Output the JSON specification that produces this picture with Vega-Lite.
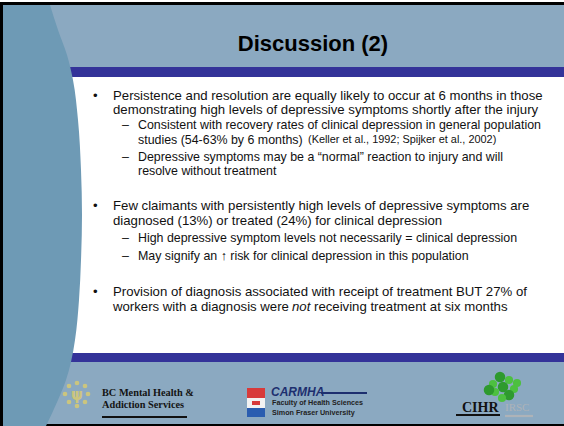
{
  "$schema": "https://vega.github.io/schema/vega-lite/v6.json",
  "width": 564,
  "height": 426,
  "autosize": {"type": "fit", "contains": "padding"},
  "padding": 0,
  "background": "white",
  "config": {"view": {"stroke": null}, "font": "Liberation Sans"},
  "datasets": {
    "boxes": [
      {"part": "frame", "x1": 0, "x2": 564, "y1": 2, "y2": 426},
      {"part": "header", "x1": 3, "x2": 564, "y1": 5, "y2": 67},
      {"part": "band", "x1": 3, "x2": 564, "y1": 67, "y2": 77},
      {"part": "body", "x1": 3, "x2": 564, "y1": 77, "y2": 353},
      {"part": "band", "x1": 3, "x2": 564, "y1": 353, "y2": 362},
      {"part": "header", "x1": 3, "x2": 564, "y1": 362, "y2": 424}
    ],
    "crest": [
      {"part": "crest_red", "x1": 247, "x2": 265, "y1": 388, "y2": 398},
      {"part": "crest_white", "x1": 247, "x2": 265, "y1": 398, "y2": 408},
      {"part": "crest_blue", "x1": 247, "x2": 265, "y1": 408, "y2": 417},
      {"part": "crest_red", "x1": 252, "x2": 260, "y1": 401, "y2": 405}
    ],
    "shape": [
      {"y": 5, "x": 50}, {"y": 30, "x": 58}, {"y": 55, "x": 67}, {"y": 80, "x": 73},
      {"y": 120, "x": 78}, {"y": 170, "x": 81}, {"y": 215, "x": 82}, {"y": 260, "x": 81},
      {"y": 300, "x": 79}, {"y": 340, "x": 75}, {"y": 362, "x": 71}, {"y": 380, "x": 66},
      {"y": 400, "x": 58}, {"y": 426, "x": 46}
    ],
    "lines": [
      {"kind": "main", "x": 93, "y": 96, "text": "•"},
      {"kind": "main", "x": 113, "y": 96, "text": "Persistence and resolution are equally likely to occur at 6 months in those"},
      {"kind": "main", "x": 113, "y": 110, "text": "demonstrating high levels of depressive symptoms shortly after the injury"},
      {"kind": "sub", "x": 122, "y": 125, "text": "–"},
      {"kind": "sub", "x": 138, "y": 125, "text": "Consistent with recovery rates of clinical depression in general population"},
      {"kind": "sub", "x": 138, "y": 140, "text": "studies (54-63% by 6 months)"},
      {"kind": "cite", "x": 308, "y": 140, "text": "(Keller et al., 1992; Spijker et al., 2002)"},
      {"kind": "sub", "x": 122, "y": 157, "text": "–"},
      {"kind": "sub", "x": 138, "y": 157, "text": "Depressive symptoms may be a “normal” reaction to injury and will"},
      {"kind": "sub", "x": 138, "y": 171, "text": "resolve without treatment"},
      {"kind": "main", "x": 93, "y": 206, "text": "•"},
      {"kind": "main", "x": 113, "y": 206, "text": "Few claimants with persistently high levels of depressive symptoms are"},
      {"kind": "main", "x": 113, "y": 221, "text": "diagnosed (13%) or treated (24%) for clinical depression"},
      {"kind": "sub", "x": 122, "y": 238, "text": "–"},
      {"kind": "sub", "x": 138, "y": 238, "text": "High depressive symptom levels not necessarily = clinical depression"},
      {"kind": "sub", "x": 122, "y": 256, "text": "–"},
      {"kind": "sub", "x": 138, "y": 256, "text": "May signify an ↑ risk for clinical depression in this population"},
      {"kind": "main", "x": 93, "y": 292, "text": "•"},
      {"kind": "main", "x": 113, "y": 292, "text": "Provision of diagnosis associated with receipt of treatment BUT 27% of"},
      {"kind": "main", "x": 113, "y": 307, "text": "workers with a diagnosis were"},
      {"kind": "ital", "x": 292, "y": 307, "text": "not"},
      {"kind": "main", "x": 314, "y": 307, "text": "receiving treatment at six months"}
    ],
    "title": [{"x": 313, "y": 44, "text": "Discussion (2)"}],
    "logotext": [
      {"kind": "bc", "x": 102, "y": 393, "text": "BC Mental Health &"},
      {"kind": "bc", "x": 102, "y": 405, "text": "Addiction Services"},
      {"kind": "carmha", "x": 271, "y": 392, "text": "CARMHA"},
      {"kind": "sfu", "x": 272, "y": 403, "text": "Faculty of Health Sciences"},
      {"kind": "sfu", "x": 272, "y": 413, "text": "Simon Fraser University"},
      {"kind": "cihr", "x": 462, "y": 408, "text": "CIHR"},
      {"kind": "irsc", "x": 505, "y": 408, "text": "IRSC"},
      {"kind": "sun", "x": 77, "y": 395, "text": "ψ"}
    ],
    "bars": [
      {"part": "ink", "x1": 102, "x2": 187, "y": 417},
      {"part": "navy", "x1": 321, "x2": 367, "y": 393},
      {"part": "ink", "x1": 456, "x2": 500, "y": 415},
      {"part": "grey", "x1": 505, "x2": 533, "y": 416}
    ],
    "dots": [
      {"part": "sun", "x": 77, "y": 383}, {"part": "sun", "x": 85, "y": 386},
      {"part": "sun", "x": 88, "y": 394}, {"part": "sun", "x": 85, "y": 402},
      {"part": "sun", "x": 77, "y": 406}, {"part": "sun", "x": 69, "y": 402},
      {"part": "sun", "x": 65, "y": 394}, {"part": "sun", "x": 69, "y": 386},
      {"part": "leaf2", "x": 500, "y": 377}, {"part": "leaf1", "x": 509, "y": 380},
      {"part": "leaf1", "x": 493, "y": 384}, {"part": "leaf2", "x": 503, "y": 387},
      {"part": "leaf1", "x": 514, "y": 389}, {"part": "leaf1", "x": 495, "y": 392},
      {"part": "leaf2", "x": 509, "y": 395}, {"part": "leaf1", "x": 502, "y": 398},
      {"part": "leaf1", "x": 517, "y": 383}, {"part": "leaf2", "x": 489, "y": 390}
    ]
  },
  "layer": [
    {
      "data": {"name": "boxes"},
      "mark": {"type": "rect"},
      "encoding": {
        "x": {"field": "x1", "type": "quantitative", "axis": null, "scale": {"domain": [0, 564], "nice": false, "zero": false}},
        "x2": {"field": "x2"},
        "y": {"field": "y1", "type": "quantitative", "axis": null, "scale": {"domain": [0, 426], "nice": false, "zero": false, "reverse": true}},
        "y2": {"field": "y2"},
        "color": {"field": "part", "type": "nominal", "legend": null,
          "scale": {"domain": ["frame", "header", "band", "body", "crest_red", "crest_white", "crest_blue", "ink", "navy", "grey", "sun", "leaf1", "leaf2"],
                    "range": ["#000000", "#8BA9C1", "#343399", "#FFFFFF", "#D83A3A", "#F2F2F2", "#2A5DB0", "#111111", "#1D2F6F", "#AEB3B8", "#CBC57E", "#4DC040", "#2E9A2E"]}}
      }
    },
    {
      "data": {"name": "shape"},
      "mark": {"type": "area", "orient": "horizontal", "interpolate": "monotone", "color": "#6E9AB5"},
      "encoding": {
        "y": {"field": "y", "type": "quantitative", "axis": null, "scale": {"domain": [0, 426], "nice": false, "zero": false, "reverse": true}},
        "x": {"field": "x", "type": "quantitative", "axis": null, "scale": {"domain": [0, 564], "nice": false, "zero": false}},
        "x2": {"datum": 3}
      }
    },
    {
      "data": {"name": "crest"},
      "mark": {"type": "rect"},
      "encoding": {
        "x": {"field": "x1", "type": "quantitative", "axis": null, "scale": {"domain": [0, 564], "nice": false, "zero": false}},
        "x2": {"field": "x2"},
        "y": {"field": "y1", "type": "quantitative", "axis": null, "scale": {"domain": [0, 426], "nice": false, "zero": false, "reverse": true}},
        "y2": {"field": "y2"},
        "color": {"field": "part", "type": "nominal", "legend": null,
          "scale": {"domain": ["frame", "header", "band", "body", "crest_red", "crest_white", "crest_blue", "ink", "navy", "grey", "sun", "leaf1", "leaf2"],
                    "range": ["#000000", "#8BA9C1", "#343399", "#FFFFFF", "#D83A3A", "#F2F2F2", "#2A5DB0", "#111111", "#1D2F6F", "#AEB3B8", "#CBC57E", "#4DC040", "#2E9A2E"]}}
      }
    },
    {
      "data": {"name": "bars"},
      "mark": {"type": "rule", "strokeWidth": 2.2},
      "encoding": {
        "x": {"field": "x1", "type": "quantitative", "axis": null, "scale": {"domain": [0, 564], "nice": false, "zero": false}},
        "x2": {"field": "x2"},
        "y": {"field": "y", "type": "quantitative", "axis": null, "scale": {"domain": [0, 426], "nice": false, "zero": false, "reverse": true}},
        "color": {"field": "part", "type": "nominal", "legend": null,
          "scale": {"domain": ["frame", "header", "band", "body", "crest_red", "crest_white", "crest_blue", "ink", "navy", "grey", "sun", "leaf1", "leaf2"],
                    "range": ["#000000", "#8BA9C1", "#343399", "#FFFFFF", "#D83A3A", "#F2F2F2", "#2A5DB0", "#111111", "#1D2F6F", "#AEB3B8", "#CBC57E", "#4DC040", "#2E9A2E"]}}
      }
    },
    {
      "data": {"name": "dots"},
      "mark": {"type": "point", "filled": true, "opacity": 1, "shape": "circle"},
      "encoding": {
        "x": {"field": "x", "type": "quantitative", "axis": null, "scale": {"domain": [0, 564], "nice": false, "zero": false}},
        "y": {"field": "y", "type": "quantitative", "axis": null, "scale": {"domain": [0, 426], "nice": false, "zero": false, "reverse": true}},
        "size": {"field": "part", "type": "nominal", "legend": null, "scale": {"domain": ["sun", "leaf1", "leaf2"], "range": [22, 110, 95]}},
        "color": {"field": "part", "type": "nominal", "legend": null,
          "scale": {"domain": ["frame", "header", "band", "body", "crest_red", "crest_white", "crest_blue", "ink", "navy", "grey", "sun", "leaf1", "leaf2"],
                    "range": ["#000000", "#8BA9C1", "#343399", "#FFFFFF", "#D83A3A", "#F2F2F2", "#2A5DB0", "#111111", "#1D2F6F", "#AEB3B8", "#CBC57E", "#4DC040", "#2E9A2E"]}}
      }
    },
    {
      "data": {"name": "title"},
      "mark": {"type": "text", "font": "Liberation Sans", "fontWeight": "bold", "fontSize": 22, "align": "center", "baseline": "middle", "color": "#000000"},
      "encoding": {
        "x": {"field": "x", "type": "quantitative", "axis": null, "scale": {"domain": [0, 564], "nice": false, "zero": false}},
        "y": {"field": "y", "type": "quantitative", "axis": null, "scale": {"domain": [0, 426], "nice": false, "zero": false, "reverse": true}},
        "text": {"field": "text"}
      }
    },
    {
      "data": {"name": "lines"},
      "transform": [{"filter": "datum.kind === 'main'"}],
      "mark": {"type": "text", "font": "Liberation Sans", "fontSize": 13.2, "align": "left", "baseline": "middle", "color": "#111111"},
      "encoding": {
        "x": {"field": "x", "type": "quantitative", "axis": null, "scale": {"domain": [0, 564], "nice": false, "zero": false}},
        "y": {"field": "y", "type": "quantitative", "axis": null, "scale": {"domain": [0, 426], "nice": false, "zero": false, "reverse": true}},
        "text": {"field": "text"}
      }
    },
    {
      "data": {"name": "lines"},
      "transform": [{"filter": "datum.kind === 'sub'"}],
      "mark": {"type": "text", "font": "Liberation Sans", "fontSize": 12.4, "align": "left", "baseline": "middle", "color": "#111111"},
      "encoding": {
        "x": {"field": "x", "type": "quantitative", "axis": null, "scale": {"domain": [0, 564], "nice": false, "zero": false}},
        "y": {"field": "y", "type": "quantitative", "axis": null, "scale": {"domain": [0, 426], "nice": false, "zero": false, "reverse": true}},
        "text": {"field": "text"}
      }
    },
    {
      "data": {"name": "lines"},
      "transform": [{"filter": "datum.kind === 'cite'"}],
      "mark": {"type": "text", "font": "Liberation Sans", "fontSize": 10.9, "align": "left", "baseline": "middle", "color": "#111111"},
      "encoding": {
        "x": {"field": "x", "type": "quantitative", "axis": null, "scale": {"domain": [0, 564], "nice": false, "zero": false}},
        "y": {"field": "y", "type": "quantitative", "axis": null, "scale": {"domain": [0, 426], "nice": false, "zero": false, "reverse": true}},
        "text": {"field": "text"}
      }
    },
    {
      "data": {"name": "lines"},
      "transform": [{"filter": "datum.kind === 'ital'"}],
      "mark": {"type": "text", "font": "Liberation Sans", "fontSize": 13.2, "fontStyle": "italic", "align": "left", "baseline": "middle", "color": "#111111"},
      "encoding": {
        "x": {"field": "x", "type": "quantitative", "axis": null, "scale": {"domain": [0, 564], "nice": false, "zero": false}},
        "y": {"field": "y", "type": "quantitative", "axis": null, "scale": {"domain": [0, 426], "nice": false, "zero": false, "reverse": true}},
        "text": {"field": "text"}
      }
    },
    {
      "data": {"name": "logotext"},
      "transform": [{"filter": "datum.kind === 'bc'"}],
      "mark": {"type": "text", "font": "Liberation Serif", "fontWeight": "bold", "fontSize": 10.3, "align": "left", "baseline": "middle", "color": "#141414"},
      "encoding": {
        "x": {"field": "x", "type": "quantitative", "axis": null, "scale": {"domain": [0, 564], "nice": false, "zero": false}},
        "y": {"field": "y", "type": "quantitative", "axis": null, "scale": {"domain": [0, 426], "nice": false, "zero": false, "reverse": true}},
        "text": {"field": "text"}
      }
    },
    {
      "data": {"name": "logotext"},
      "transform": [{"filter": "datum.kind === 'carmha'"}],
      "mark": {"type": "text", "font": "Liberation Sans", "fontWeight": "bold", "fontStyle": "italic", "fontSize": 12, "align": "left", "baseline": "middle", "color": "#1D2F6F"},
      "encoding": {
        "x": {"field": "x", "type": "quantitative", "axis": null, "scale": {"domain": [0, 564], "nice": false, "zero": false}},
        "y": {"field": "y", "type": "quantitative", "axis": null, "scale": {"domain": [0, 426], "nice": false, "zero": false, "reverse": true}},
        "text": {"field": "text"}
      }
    },
    {
      "data": {"name": "logotext"},
      "transform": [{"filter": "datum.kind === 'sfu'"}],
      "mark": {"type": "text", "font": "Liberation Sans", "fontWeight": "bold", "fontSize": 7.2, "align": "left", "baseline": "middle", "color": "#222222"},
      "encoding": {
        "x": {"field": "x", "type": "quantitative", "axis": null, "scale": {"domain": [0, 564], "nice": false, "zero": false}},
        "y": {"field": "y", "type": "quantitative", "axis": null, "scale": {"domain": [0, 426], "nice": false, "zero": false, "reverse": true}},
        "text": {"field": "text"}
      }
    },
    {
      "data": {"name": "logotext"},
      "transform": [{"filter": "datum.kind === 'cihr'"}],
      "mark": {"type": "text", "font": "Liberation Serif", "fontWeight": "bold", "fontSize": 14, "align": "left", "baseline": "middle", "color": "#111111"},
      "encoding": {
        "x": {"field": "x", "type": "quantitative", "axis": null, "scale": {"domain": [0, 564], "nice": false, "zero": false}},
        "y": {"field": "y", "type": "quantitative", "axis": null, "scale": {"domain": [0, 426], "nice": false, "zero": false, "reverse": true}},
        "text": {"field": "text"}
      }
    },
    {
      "data": {"name": "logotext"},
      "transform": [{"filter": "datum.kind === 'irsc'"}],
      "mark": {"type": "text", "font": "Liberation Serif", "fontSize": 11, "align": "left", "baseline": "middle", "color": "#AEB3B8"},
      "encoding": {
        "x": {"field": "x", "type": "quantitative", "axis": null, "scale": {"domain": [0, 564], "nice": false, "zero": false}},
        "y": {"field": "y", "type": "quantitative", "axis": null, "scale": {"domain": [0, 426], "nice": false, "zero": false, "reverse": true}},
        "text": {"field": "text"}
      }
    },
    {
      "data": {"name": "logotext"},
      "transform": [{"filter": "datum.kind === 'sun'"}],
      "mark": {"type": "text", "font": "DejaVu Sans", "fontWeight": "bold", "fontSize": 15, "align": "center", "baseline": "middle", "color": "#CBC57E"},
      "encoding": {
        "x": {"field": "x", "type": "quantitative", "axis": null, "scale": {"domain": [0, 564], "nice": false, "zero": false}},
        "y": {"field": "y", "type": "quantitative", "axis": null, "scale": {"domain": [0, 426], "nice": false, "zero": false, "reverse": true}},
        "text": {"field": "text"}
      }
    }
  ]
}
